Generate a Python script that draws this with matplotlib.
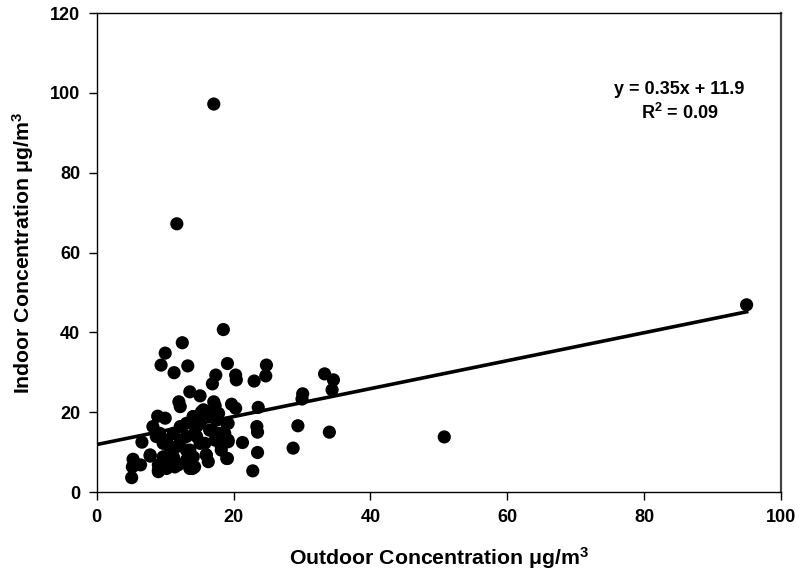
import matplotlib
matplotlib.use("Agg")
import matplotlib.pyplot as plt
import numpy as np

plt.rcParams['font.family'] = ['Liberation Sans', 'DejaVu Sans']
plt.rcParams['mathtext.fontset'] = 'custom'
plt.rcParams['mathtext.rm'] = 'Liberation Sans:bold'
plt.rcParams['mathtext.bf'] = 'Liberation Sans:bold'
plt.rcParams['mathtext.it'] = 'Liberation Sans:bold'
plt.rcParams['mathtext.default'] = 'bf'

outdoor = [17.1, 11.7, 95.0, 50.8,
           18.5, 12.5, 10.0, 9.4, 13.3, 11.3, 19.1, 17.4, 16.9, 20.3, 20.4, 23.0,
           24.8, 24.7, 13.6, 15.1, 12.0, 12.2, 17.1, 17.3, 19.7, 20.3, 23.6,
           8.9, 10.0, 8.2, 6.6, 7.8, 5.3, 5.2, 6.4, 5.1, 21.3, 23.4, 23.5, 23.5,
           22.8, 19.1, 19.2, 19.0, 16.0, 14.0, 9.0, 10.2, 11.4,
           33.3, 34.6, 34.4, 30.1, 30.0, 29.4, 28.7, 34.0,
           9.2, 9.7, 10.7, 9.0, 9.0, 11.2, 11.9, 13.6, 13.1, 14.1, 12.2, 13.1,
           14.3, 14.1, 15.3, 15.1, 14.6, 17.8, 19.2, 16.8, 17.3, 18.7, 19.2,
           15.8, 16.0, 16.3, 18.2, 19.0, 14.3,
           15.6, 14.1, 16.5, 17.5, 12.2, 11.2, 13.1, 10.2, 11.7, 13.6, 15.1,
           8.7, 9.7, 11.2, 13.1, 18.2, 18.0, 14.6, 16.5, 7.8]
indoor = [97.2, 67.2, 46.9, 13.8,
          40.7, 37.4, 34.8, 31.8, 31.6, 29.9, 32.2, 29.3, 27.1, 29.3, 28.1, 27.8,
          31.8, 29.1, 25.1, 24.1, 22.6, 21.4, 22.6, 21.6, 22.0, 21.0, 21.2,
          19.0, 18.5, 16.4, 12.5, 9.3, 8.2, 6.3, 6.8, 3.6, 12.4, 16.4, 15.0, 9.9,
          5.3, 8.4, 13.0, 17.2, 9.3, 5.9, 5.5, 5.9, 6.3,
          29.6, 28.1, 25.6, 24.6, 23.3, 16.6, 11.0, 15.0,
          14.7, 12.2, 10.5, 6.8, 5.1, 8.0, 6.8, 5.9, 17.2, 18.9, 13.0, 10.5,
          14.7, 8.8, 20.1, 17.2, 13.9, 19.7, 17.2, 15.5, 13.0, 14.7, 12.6,
          12.2, 9.3, 7.6, 10.5, 8.4, 6.3,
          20.6, 18.9, 19.3, 18.0, 16.4, 14.7, 13.9, 13.0, 11.4, 10.5, 12.2,
          13.9, 8.8, 8.8, 8.0, 11.4, 14.7, 16.4, 15.5, 9.0]

slope = 0.35
intercept = 11.9
eq_text = "y = 0.35x + 11.9"
r2_text = "R$^2$ = 0.09"

fig = plt.figure(figsize=(8, 5.82), dpi=100)
ax = fig.add_axes([0.121, 0.1546, 0.855, 0.823])

ax.scatter(outdoor, indoor, s=90, c='black', edgecolors='none', zorder=3)
xl = np.array([0, max(outdoor)])
ax.plot(xl, slope * xl + intercept, color='black', lw=2.6, zorder=2)

ax.set_xlim(0, 100)
ax.set_ylim(0, 120)
ax.set_xticks(np.arange(0, 101, 20))
ax.set_yticks(np.arange(0, 121, 20))
ax.tick_params(direction='out', length=6, width=1, labelsize=13, pad=6)
for lab in ax.get_xticklabels() + ax.get_yticklabels():
    lab.set_fontweight('bold')
for sp in ax.spines.values():
    sp.set_linewidth(1.0)
ax.spines['right'].set_color('#444444')
ax.spines['right'].set_linewidth(1.6)

ax.set_xlabel("Outdoor Concentration μg/m$^3$", fontsize=15.3, fontweight='bold', labelpad=14)
ax.set_ylabel("Indoor Concentration μg/m$^3$", fontsize=15.3, fontweight='bold', labelpad=10)

ax.text(85.2, 100.8, eq_text, ha='center', va='center', fontsize=13, fontweight='bold')
ax.text(85.2, 95.0, r2_text, ha='center', va='center', fontsize=13, fontweight='bold')

fig.savefig("out.png", dpi=100)
